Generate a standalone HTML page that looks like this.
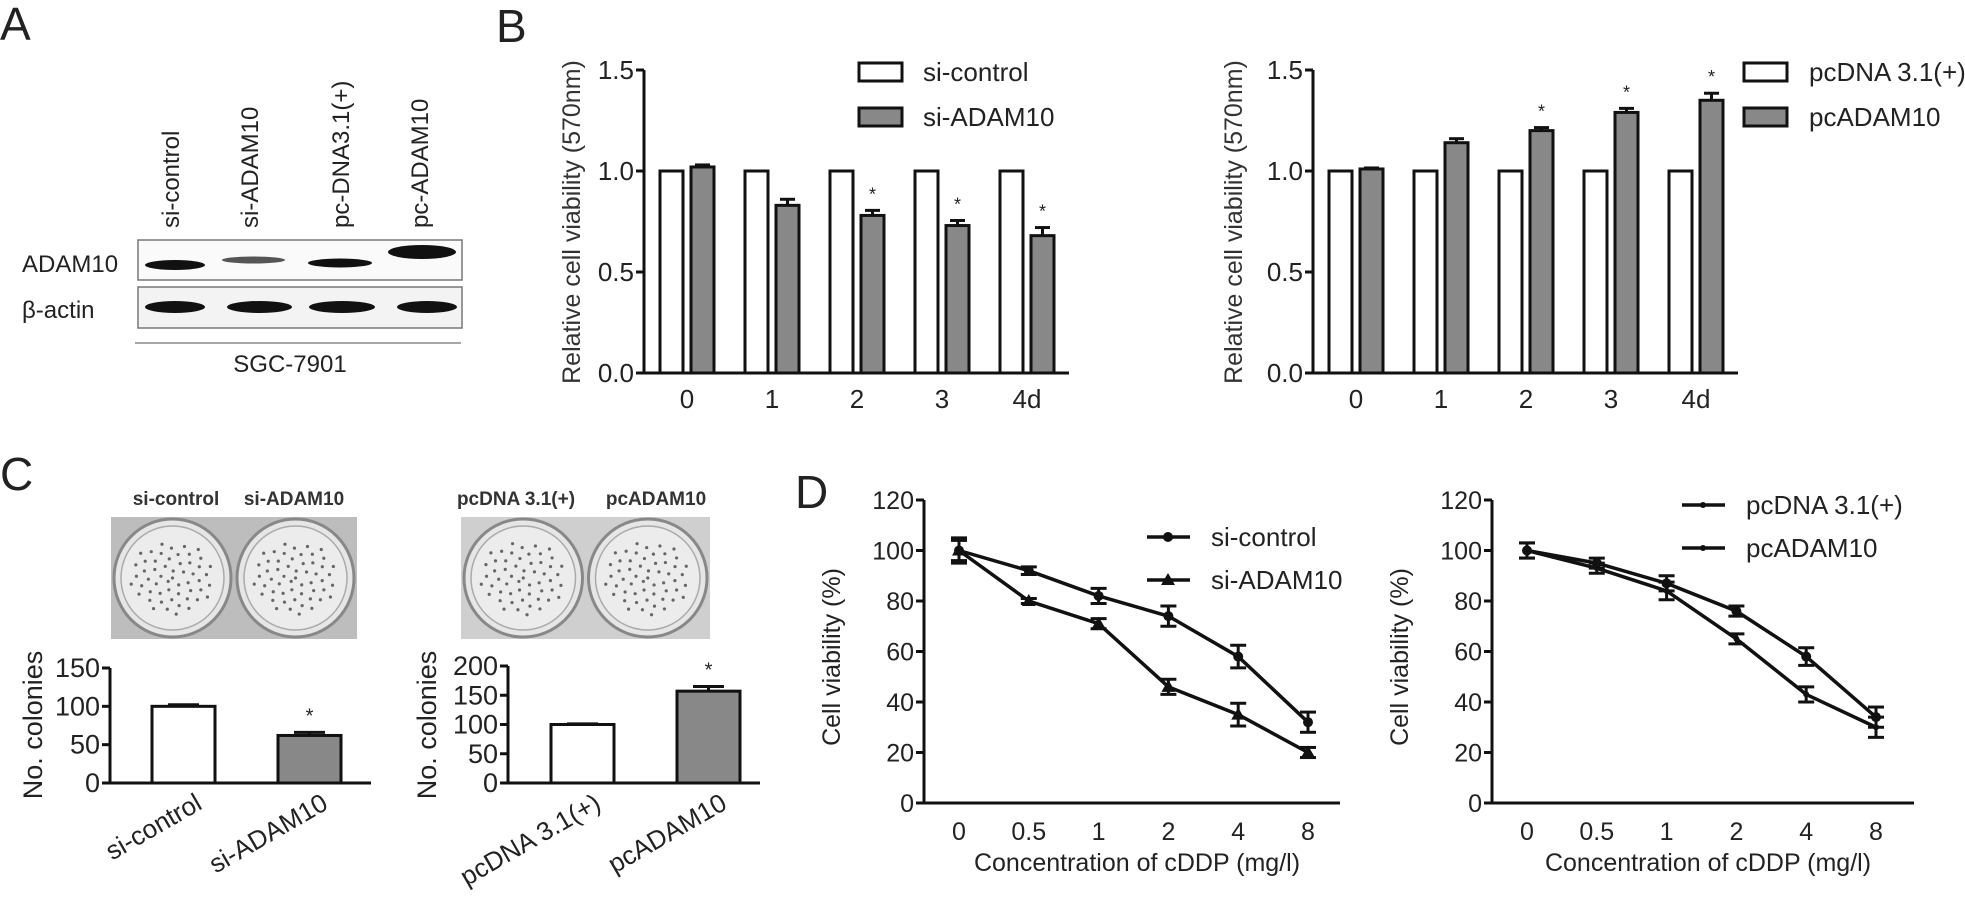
<!DOCTYPE html>
<html><head><meta charset="utf-8"><style>
body{margin:0;background:#fff;}
svg{display:block;font-family:"Liberation Sans",Arial,sans-serif;}
</style></head><body>
<svg id="fig" width="1965" height="901" viewBox="0 0 1965 901">
<g id="root"></g>
</svg>
<script>
// ---- data ----
const bDays = ["0","1","2","3","4d"];
const bLeftCtrl = [1,1,1,1,1];
const bLeftSi = [1.02,0.83,0.78,0.73,0.68];
const bLeftSiErr = [0.01,0.03,0.025,0.025,0.04];
const bLeftStar = [false,false,true,true,true];
const bRightCtrl = [1,1,1,1,1];
const bRightPc = [1.01,1.14,1.20,1.29,1.35];
const bRightPcErr = [0.005,0.02,0.015,0.02,0.035];
const bRightStar = [false,false,true,true,true];
const bTicks = ["0.0","0.5","1.0","1.5"];
const cLeftCats = ["si-control","si-ADAM10"];
const cLeftVals = [100,62];
const cLeftErr = [2,4];
const cLeftTicks = [0,50,100,150];
const cRightCats = ["pcDNA 3.1(+)","pcADAM10"];
const cRightVals = [100,157];
const cRightErr = [1,8];
const cRightTicks = [0,50,100,150,200];
const dConc = ["0","0.5","1","2","4","8"];
const dTicks = [0,20,40,60,80,100,120];
const dLeftCtrl = [100,92,82,74,58,32];
const dLeftCtrlErr = [5,1.5,3,4,4.5,4];
const dLeftSi = [100,80,71,46,35,20];
const dLeftSiErr = [4,1,2,3,4.5,2];
const dLeftStar = [false,true,false,true,true,false];
const dRightCtrl = [100,95,87,76,58,34];
const dRightCtrlErr = [3,2,3,2,3.5,4];
const dRightPc = [100,93,84,65,43,30];
const dRightPcErr = [3,2,3.5,2,3,4];
const dRightStar = [false,false,false,true,true,false];

const NS="http://www.w3.org/2000/svg";
const root=document.getElementById('root');
function el(tag,attrs,parent,txt){const e=document.createElementNS(NS,tag);for(const k in attrs)e.setAttribute(k,attrs[k]);if(txt!==undefined)e.textContent=txt;(parent||root).appendChild(e);return e;}
function T(x,y,s,size,anchor,parent,extra){const e=el('text',Object.assign({x:x,y:y,'font-size':size,'text-anchor':anchor||'start',fill:'#222'},extra||{}),parent,s);return e;}

// panel letters
[["A",0,40],["B",496,42],["C",0,490],["D",795,508]].forEach(p=>{const t=T(p[1],p[2],p[0],46,'start');});

// ---- A: western blot ----
(function(){
 const g=el('g',{});
 const lanes=["si-control","si-ADAM10","pc-DNA3.1(+)","pc-ADAM10"];
 const lx=[171,250,341,420];
 lanes.forEach((s,i)=>{const t=T(lx[i]+8,228,s,24,'start',g,{transform:`rotate(-90 ${lx[i]+8} 228)`});});
 el('rect',{x:138,y:240,width:324,height:40,fill:'#fafafa',stroke:'#777','stroke-width':1.5},g);
 el('rect',{x:138,y:287,width:324,height:41,fill:'#f3f3f3',stroke:'#777','stroke-width':1.5},g);
 const adam=[[145,205,8],[222,285,5],[308,372,7],[388,456,12]];
 const adamY=[265,260,263,252];
 adam.forEach((b,i)=>el('ellipse',{cx:(b[0]+b[1])/2,cy:adamY[i],rx:(b[1]-b[0])/2,ry:b[2]/2+1,fill:i==1?'#555':'#111'},g));
 [[145,205],[227,292],[309,375],[397,457]].forEach(b=>el('ellipse',{cx:(b[0]+b[1])/2,cy:307,rx:(b[1]-b[0])/2,ry:6,fill:'#111'},g));
 T(22,272,"ADAM10",24,'start',g);
 T(22,318,"β-actin",24,'start',g);
 el('line',{x1:135,y1:343,x2:461,y2:343,stroke:'#888','stroke-width':1.5},g);
 T(290,372,"SGC-7901",24,'middle',g);
})();

// ---- bar chart helper ----
function barChart(o){
 const g=el('g',{});
 const y=v=>o.y0-(v-o.ymin)/(o.ymax-o.ymin)*(o.y0-o.ytop);
 el('line',{x1:o.ax,y1:o.ytop,x2:o.ax,y2:o.y0,stroke:'#111','stroke-width':3},g);
 el('line',{x1:o.ax-8,y1:o.y0,x2:o.xend,y2:o.y0,stroke:'#111','stroke-width':3},g);
 o.ticks.forEach(t=>{const v=parseFloat(t);el('line',{x1:o.ax-8,y1:y(v),x2:o.ax,y2:y(v),stroke:'#111','stroke-width':3},g);
  const tt=T(o.ax-10,y(v)+9,t,o.tfs,'end',g);});
 return {g,y};
}

// ---- B ----
function panelB(name,ax,series,err,stars,legend,legX,legTextX,titleX,xend){
 const c=barChart({name:name,ax:ax,ytop:70,y0:373,ymin:0,ymax:1.5,ticks:bTicks,xend:xend,tfs:26});
 const g=c.g,y=c.y;
 const spacing=85,off0=ax+16,bw=23;
 bDays.forEach((d,i)=>{
  const x0=off0+i*spacing;
  const r1=el('rect',{x:x0,y:y(series[0][i]),width:bw,height:373-y(series[0][i]),fill:'#fff',stroke:'#111','stroke-width':3},g);
  
  const x1=x0+bw+8;
  const yt=y(series[1][i]+err[i]);
  el('line',{x1:x1+bw/2,y1:yt,x2:x1+bw/2,y2:y(series[1][i]),stroke:'#111','stroke-width':3},g);
  el('line',{x1:x1+4,y1:yt,x2:x1+bw-4,y2:yt,stroke:'#111','stroke-width':3},g);
  const r2=el('rect',{x:x1,y:y(series[1][i]),width:bw,height:373-y(series[1][i]),fill:'#888',stroke:'#111','stroke-width':3},g);
  
  if(stars[i])T(x1+bw/2,yt-10,"*",18,'middle',g);
  const xl=T(x0+bw+4,408,d,26,'middle',g);
 });
 const yt=T(titleX,222,"Relative cell viability (570nm)",25,'middle',g,{transform:`rotate(-90 ${titleX} 222)`,fill:'#333'});
 
 legend.forEach((s,i)=>{const ly=63+i*45;
  const lg=el('g',{},g);
  el('rect',{x:legX,y:ly,width:43,height:18,fill:i?'#888':'#fff',stroke:'#111','stroke-width':3},lg);
  T(legTextX,ly+18,s,26,'start',lg);});
}
panelB('chart-b-knockdown',644,[bLeftCtrl,bLeftSi],bLeftSiErr,bLeftStar,["si-control","si-ADAM10"],859,923,580,1069);
panelB('chart-b-overexpression',1313,[bRightCtrl,bRightPc],bRightPcErr,bRightStar,["pcDNA 3.1(+)","pcADAM10"],1744,1809,1242,1738);

// ---- C ----
function plate(x,w,name,dense){
 const g=el('g',{});
 el('rect',{x:x,y:517,width:w,height:122,fill:dense?'#bdbdbd':'#cfcfcf'},g);
 const r=w/4;
 [x+r,x+3*r].forEach((cx,j)=>{
  el('ellipse',{cx:cx,cy:578,rx:r-3,ry:59,fill:'#e6e6e6',stroke:'#888','stroke-width':3},g);
  el('ellipse',{cx:cx,cy:578,rx:r-10,ry:52,fill:'#ececec',stroke:'#aaa','stroke-width':1.5},g);
  let n=0;for(let k=0;k<55;k++){const a=k*2.399,rr=Math.sqrt(k/55)*(r-18);el('circle',{cx:cx+Math.cos(a)*rr,cy:578+Math.sin(a)*rr*0.85,r:1.6,fill:'#666'},g);}
 });
}
plate(111,246,'colony-plate-knockdown',true);
plate(461,249,'colony-plate-overexpression',false);
T(176,505,"si-control",19,'middle',null,{'font-weight':'bold',fill:'#333'});
T(294,505,"si-ADAM10",19,'middle',null,{'font-weight':'bold',fill:'#333'});
T(516,505,"pcDNA 3.1(+)",19,'middle',null,{'font-weight':'bold',fill:'#333'});
T(656,505,"pcADAM10",19,'middle',null,{'font-weight':'bold',fill:'#333'});
function panelC(name,ax,ytop,ymax,ticks,cats,vals,errs,bx,xend,titleX){
 const c=barChart({name:name,ax:ax,ytop:ytop,y0:783,ymin:0,ymax:ymax,ticks:ticks.map(String),xend:xend,tfs:27});
 const g=c.g,y=c.y;
 cats.forEach((s,i)=>{
  const x0=bx[i],w=63;
  const yt=y(vals[i]+errs[i]);
  el('line',{x1:x0+w/2,y1:yt,x2:x0+w/2,y2:y(vals[i]),stroke:'#111','stroke-width':3},g);
  el('line',{x1:x0+16,y1:yt,x2:x0+w-16,y2:yt,stroke:'#111','stroke-width':3},g);
  const r=el('rect',{x:x0,y:y(vals[i]),width:w,height:783-y(vals[i]),fill:i?'#888':'#fff',stroke:'#111','stroke-width':3},g);
  
  if(i==1)T(x0+w/2,yt-10,"*",20,'middle',g);
  const xl=T(x0+w/2+20,808,s,26,'end',g,{transform:`rotate(-30 ${x0+w/2+20} 808)`});
 });
 const t=T(titleX,725,"No. colonies",27,'middle',g,{transform:`rotate(-90 ${titleX} 725)`});
}
panelC('chart-c-knockdown',110,668,150,cLeftTicks,cLeftCats,cLeftVals,cLeftErr,[152,278],371,42);
panelC('chart-c-overexpression',508,666,200,cRightTicks,cRightCats,cRightVals,cRightErr,[551,677],760,436);

// ---- D ----
function panelD(name,ax,xend,sA,eA,sB,eB,stars,legend,legX,legY,titleX,markerB){
 const g=el('g',{});
 const y0=803,ytop=500;
 const y=v=>y0-v/120*(y0-ytop);
 const x=i=>ax+35+i*69.8;
 el('line',{x1:ax,y1:ytop,x2:ax,y2:y0,stroke:'#111','stroke-width':3},g);
 el('line',{x1:ax-8,y1:y0,x2:xend,y2:y0,stroke:'#111','stroke-width':3},g);
 dTicks.forEach(v=>{el('line',{x1:ax-8,y1:y(v),x2:ax,y2:y(v),stroke:'#111','stroke-width':3},g);
  const t=T(ax-10,y(v)+9,String(v),25,'end',g);});
 dConc.forEach((c,i)=>{const t=T(x(i),840,c,25,'middle',g);});
 [[sA,eA,'circle'],[sB,eB,markerB]].forEach((s,k)=>{
  const pts=s[0].map((v,i)=>x(i)+','+y(v)).join(' ');
  const pl=el('polyline',{points:pts,fill:'none',stroke:'#111','stroke-width':3.5},g);
  
  s[0].forEach((v,i)=>{const cx=x(i),cy=y(v),e=s[1][i];
   el('line',{x1:cx,y1:y(v+e),x2:cx,y2:y(v-e),stroke:'#111','stroke-width':3},g);
   el('line',{x1:cx-8,y1:y(v+e),x2:cx+8,y2:y(v+e),stroke:'#111','stroke-width':3},g);
   el('line',{x1:cx-8,y1:y(v-e),x2:cx+8,y2:y(v-e),stroke:'#111','stroke-width':3},g);
   let m;
   if(s[2]=='circle')m=el('circle',{cx:cx,cy:cy,r:5,fill:'#111'},g);
   else if(s[2]=='tri')m=el('polygon',{points:`${cx},${cy-7} ${cx-7},${cy+5} ${cx+7},${cy+5}`,fill:'#111'},g);
   else m=el('circle',{cx:cx,cy:cy,r:3,fill:'#111'},g);
   
  });
 });
 stars.forEach((st,i)=>{if(st){const lower=name.indexOf('left')>=0;const v=lower?sB[0][i]-eB[i]:sA[0][i]+eA[i];T(x(i),lower?y(v)+32:y(v)-8,"*",18,'middle',g);}});
 const t=T(titleX,657,"Cell viability (%)",25,'middle',g,{transform:`rotate(-90 ${titleX} 657)`});
 const xt=T((ax+xend)/2+5,871,"Concentration of cDDP (mg/l)",25,'middle',g);
 legend.forEach((s,i)=>{const ly=legY+i*43;
  const lg=el('g',{},g);
  el('line',{x1:legX,y1:ly,x2:legX+43,y2:ly,stroke:'#111','stroke-width':3.5},lg);
  if(i==0&&markerB=='tri')el('circle',{cx:legX+21,cy:ly,r:5,fill:'#111'},lg);
  else if(markerB=='tri')el('polygon',{points:`${legX+21},${ly-7} ${legX+14},${ly+5} ${legX+28},${ly+5}`,fill:'#111'},lg);
  else el('circle',{cx:legX+21,cy:ly,r:3,fill:'#111'},lg);
  T(legX+64,ly+9,s,26,'start',lg);});
}
panelD('chart-d-left',924,1340,dLeftCtrl,dLeftCtrlErr,dLeftSi,dLeftSiErr,dLeftStar,["si-control","si-ADAM10"],1147,537,840,'tri');
panelD('chart-d-right',1492,1914,dRightCtrl,dRightCtrlErr,dRightPc,dRightPcErr,dRightStar,["pcDNA 3.1(+)","pcADAM10"],1682,505,1408,'small');
</script>
</body></html>
